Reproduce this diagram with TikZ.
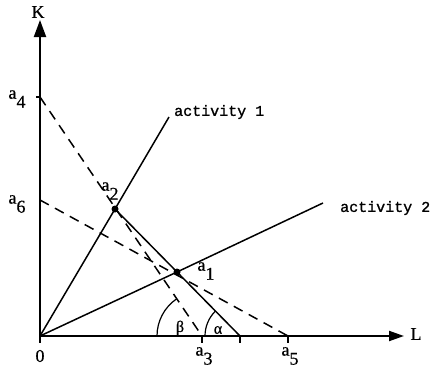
\documentclass[tikz,border=0pt]{standalone}
\usepackage{fontspec}
\setmainfont{Liberation Serif}[FakeBold=0.6]
\newfontfamily\actfont{Liberation Mono}[FakeBold=1.2]
\usetikzlibrary{arrows.meta,calc}
\newcommand\alab[1]{a\raisebox{-0.5em}{#1}}
\begin{document}
\begin{tikzpicture}[x=1pt,y=-1pt,
  axis/.style={line width=2pt},
  ray/.style={line width=1.5pt},
  dline/.style={line width=1.5pt,dash pattern=on 10pt off 7pt},
  lab/.style={font=\fontsize{18}{18}\selectfont,inner sep=0pt},
  act/.style={font=\actfont\fontsize{15}{15}\selectfont,inner sep=0pt,anchor=west},
  tick/.style={line width=1.2pt},
  dot/.style={circle,fill=black,inner sep=0pt,minimum size=7pt}]
\useasboundingbox (0,0) rectangle (438,372);
% coordinates
\coordinate (O) at (40,336);
\coordinate (Ktip) at (40,20);
\coordinate (Ltip) at (404,336);
\coordinate (A4) at (40,97);
\coordinate (A6) at (40,200);
\coordinate (A3) at (202,336);
\coordinate (A5) at (288,336);
\coordinate (B) at (240,336);
\coordinate (E1) at (169,117);
\coordinate (E2) at (323,203);
\node[dot] (A2) at (115,209) {};
\node[dot] (A1) at (177,272) {};
% axes
\draw[axis,-{Triangle[length=17pt,width=12pt]}] (O) -- (Ktip);
\draw[axis,-{Triangle[length=15pt,width=10pt]}] (O) -- (Ltip);
% ticks
\foreach \p in {O,A3,A5,B} \draw[tick] (\p) -- ++(0,7);
\draw[tick] (A4) -- ++(-4,0);
% rays
\draw[ray] (O) -- (A2.center) -- (E1);
\draw[ray] (O) -- (A1.center) -- (E2);
\draw[ray] (A2.center) -- (A1.center) -- (B);
% dashed lines
\draw[dline] (A4) -- (A3);
\draw[dline] (A6) -- (A5);
% angle arcs
\draw[line width=1.2pt] ($(B)+(-35,0)$) arc[start angle=180,end angle=225,radius=35];
\draw[line width=1.2pt] ($(A3)+(-45,0)$) arc[start angle=180,end angle=236,radius=45];
% labels
\node[lab] (K) at (38,12) {K};
\node[lab] (L) at (416,334) {L};
\node[lab] (zero) at (40,356) {0};
\node[lab] (la4) at (17,99) {\alab{4}};
\node[lab] (la6) at (17,204) {\alab{6}};
\node[lab] (la2) at (110,191) {\alab{2}};
\node[lab] (la1) at (206,271) {\alab{1}};
\node[lab] (la3) at (204,356) {\alab{3}};
\node[lab] (la5) at (290,356) {\alab{5}};
\node[act] (t1) at (174,112) {activity 1};
\node[act] (t2) at (340,208) {activity 2};
\node[font=\fontsize{16}{16}\selectfont,inner sep=0pt] (alpha) at (218,330) {α};
\node[font=\fontsize{16}{16}\selectfont,inner sep=0pt] (beta) at (180,328) {β};
\end{tikzpicture}
\end{document}
